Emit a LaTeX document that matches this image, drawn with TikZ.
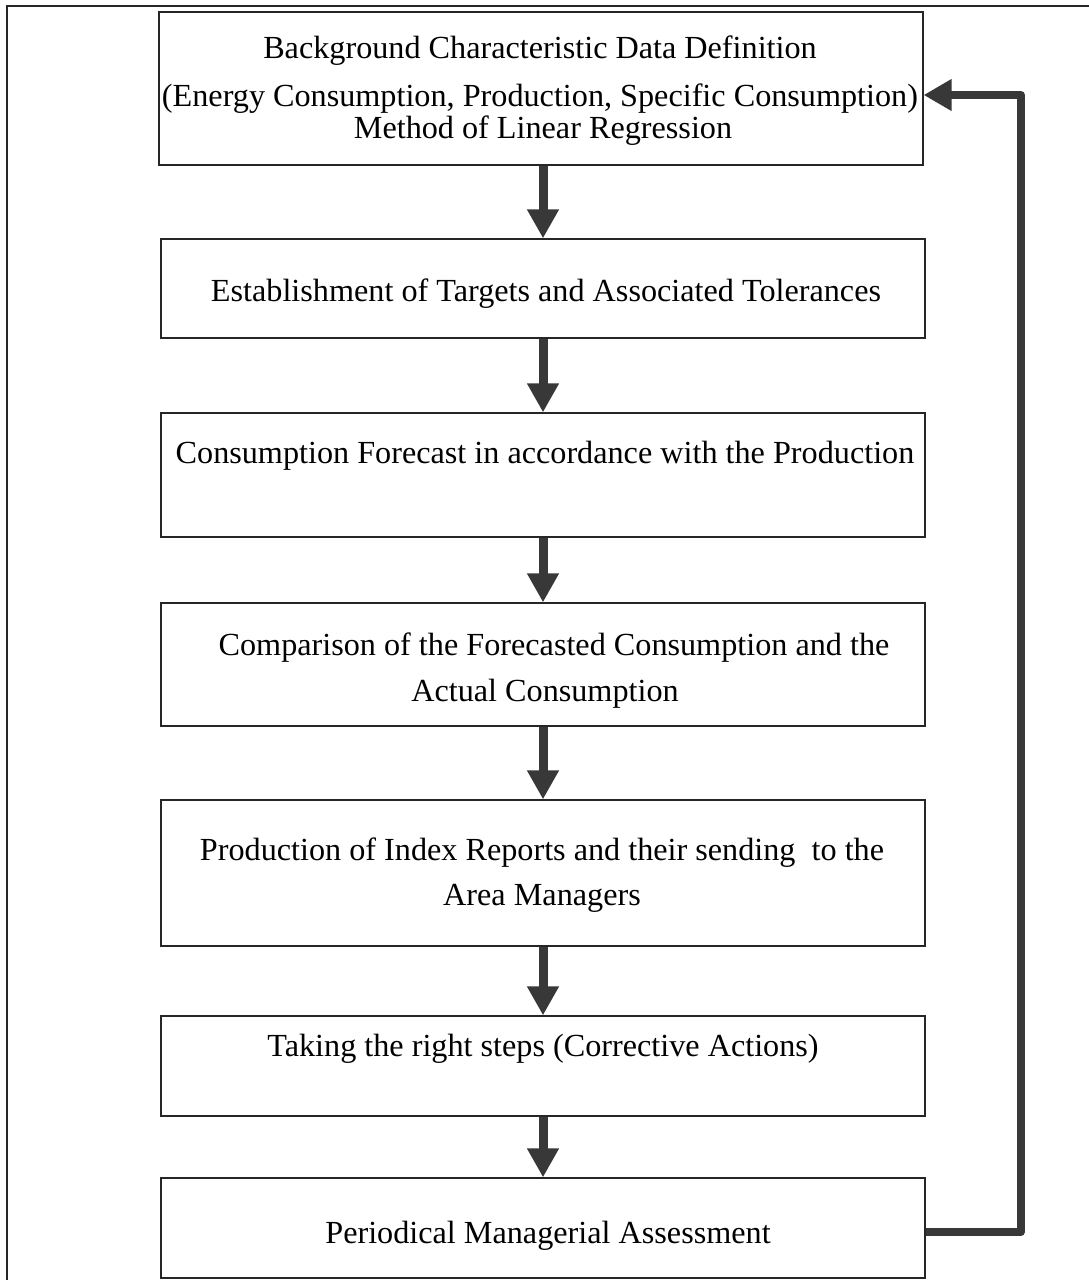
\documentclass[tikz,border=0pt]{standalone}
\usepackage{fontspec}
\setmainfont{Liberation Serif}
\usetikzlibrary{arrows.meta}
\begin{document}
\begin{tikzpicture}[x=1pt,y=-1pt,
  stagebox/.style={draw=black!85,line width=1.2pt,rectangle,inner sep=0pt,minimum width=764pt},
  lbl/.style={anchor=base,inner sep=0pt,font=\fontsize{32.2}{38}\selectfont},
  flowarrow/.style={draw=black!78,line width=9pt,-{Triangle[length=29pt,width=30pt]}},
  fbarrow/.style={draw=black!78,line width=7.5pt,line join=round,-{Triangle[length=28pt,width=30pt]}}]
\useasboundingbox (0,0) rectangle (1089,1280);
% outer frame (only left and top visible)
\draw[black!85,line width=2pt] (7,1280) -- (7,6) -- (1089,6);
% boxes
\node[stagebox,minimum height=153pt] (b1) at (541,88.5) {};
\node[stagebox,minimum height=99pt]  (b2) at (543,288.5) {};
\node[stagebox,minimum height=124pt] (b3) at (543,475) {};
\node[stagebox,minimum height=123pt] (b4) at (543,664.5) {};
\node[stagebox,minimum height=146pt] (b5) at (543,873) {};
\node[stagebox,minimum height=100pt] (b6) at (543,1066) {};
\node[stagebox,minimum height=100pt] (b7) at (543,1228) {};
% texts
\node[lbl] (t1a) at (540,58) {Background Characteristic Data Definition};
\node[lbl] (t1b) at (540,106) {(Energy Consumption, Production, Specific Consumption)};
\node[lbl] (t1c) at (543,138) {Method of Linear Regression};
\node[lbl] (t2) at (546,301) {Establishment of Targets and Associated Tolerances};
\node[lbl] (t3) at (545,463) {Consumption Forecast in accordance with the Production};
\node[lbl] (t4a) at (554,655) {Comparison of the Forecasted Consumption and the};
\node[lbl] (t4b) at (545,701) {Actual Consumption};
\node[lbl] (t5a) at (542,860) {Production of Index Reports and their sending\ \ to the};
\node[lbl] (t5b) at (542,905) {Area Managers};
\node[lbl] (t6) at (543,1056) {Taking the right steps (Corrective Actions)};
\node[lbl] (t7) at (548,1243) {Periodical Managerial Assessment};
% flow arrows
\draw[flowarrow] (b1.south -| 543,0) -- (b2.north -| 543,0);
\draw[flowarrow] (b2.south -| 543,0) -- (b3.north -| 543,0);
\draw[flowarrow] (b3.south -| 543,0) -- (b4.north -| 543,0);
\draw[flowarrow] (b4.south -| 543,0) -- (b5.north -| 543,0);
\draw[flowarrow] (b5.south -| 543,0) -- (b6.north -| 543,0);
\draw[flowarrow] (b6.south -| 543,0) -- (b7.north -| 543,0);
% feedback arrow
\coordinate (fbstart) at ([yshift=-4pt]b7.east);
\coordinate (fbend) at ([yshift=-6.5pt]b1.east);
\draw[fbarrow] (fbstart) -- (1021,0 |- fbstart) -- (1021,0 |- fbend) -- (fbend);
\end{tikzpicture}
\end{document}
